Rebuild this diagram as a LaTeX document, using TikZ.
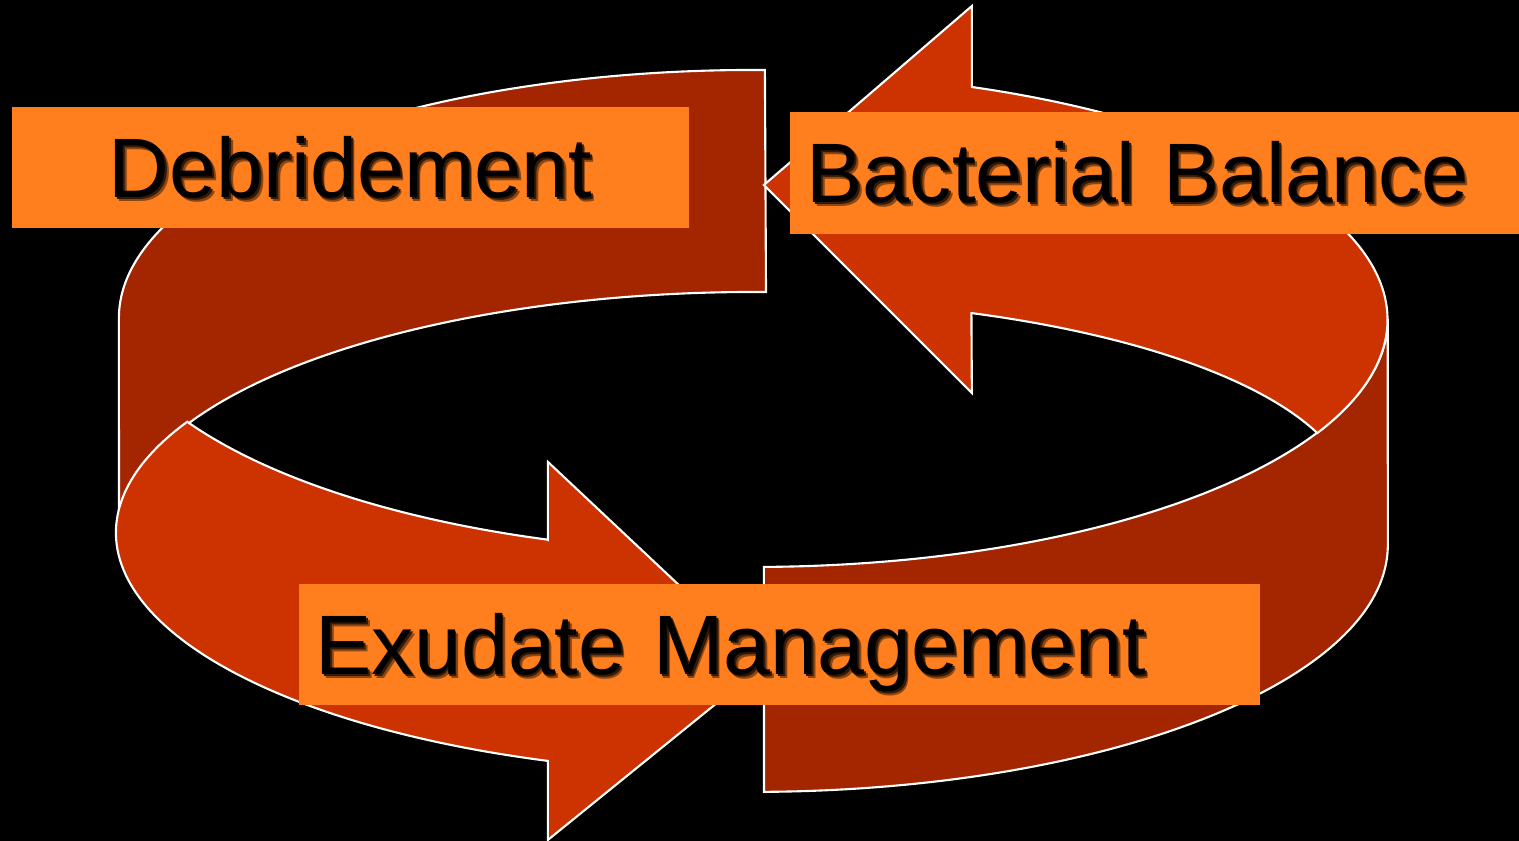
\documentclass[tikz,border=0pt]{standalone}
\usepackage{fontspec}
\setmainfont{Liberation Sans}
\usepackage{tikz}
\definecolor{walldark}{HTML}{A32600}
\definecolor{arrowred}{HTML}{CC3300}
\definecolor{boxorange}{HTML}{FF7F1F}
\colorlet{textshade}{black!45!boxorange}
\colorlet{textshadenear}{black!80!boxorange}
\newcommand{\shadowed}[1]{\makebox[0pt][l]{\kern0.035cm\raisebox{-0.04cm}{\color{textshade}#1}}%
	\makebox[0pt][l]{\kern0.018cm\raisebox{-0.02cm}{\color{textshadenear}#1}}#1}
\tikzset{
	ribbon/.style={draw=white, line width=0.6pt, line join=miter},
	labelbox/.style={fill=boxorange, inner xsep=0.17cm, inner ysep=0pt, minimum height=1.21cm,
		text height=0.6cm, text depth=0pt, font=\fontsize{24}{28}\selectfont}
}

\begin{document}
\begin{tikzpicture}[x=0.01cm, y=-0.01cm]
		\fill[black] (0,0) rectangle (1519,841);
		% back wall on the left
		\draw[ribbon, fill=walldark] (765,70) arc[start angle=-89, end angle=-180, x radius=635, y radius=248]
			-- (119,533) arc[start angle=180, end angle=271, x radius=636, y radius=241] -- cycle;
		% front wall on the right
		\draw[ribbon, fill=walldark] (764,567) arc[start angle=89, end angle=0, x radius=635, y radius=248]
			-- (1388,545) arc[start angle=0, end angle=89, x radius=635, y radius=247] -- cycle;
		% arrow to the right, bottom
		\draw[ribbon, fill=arrowred] (548,540) -- (548,462) -- (764,665) -- (548,840) -- (548,761)
			arc[start angle=108.7, end angle=207.4, x radius=636, y radius=241]
			arc[start angle=150.4, end angle=108.4, x radius=650, y radius=259] -- cycle;
		% arrow to the left, top
		\draw[ribbon, fill=arrowred] (764,185) -- (972,6) -- (972,87)
			arc[start angle=-69.8, end angle=27.2, x radius=635, y radius=248]
			arc[start angle=-19.7, end angle=-68.6, x radius=600, y radius=202] -- (972,393) -- cycle;
		\node[labelbox, text width=6.43cm, align=center] (debr) at (350.5,167.5) {\shadowed{Debridement}};
		\node[labelbox, text width=6.95cm, align=left] (bact) at (1154.5,173) {\shadowed{Bacterial Balance}};
		\node[labelbox, text width=9.27cm, align=left] (exud) at (779.5,644.5) {\shadowed{Exudate Management}};
	\end{tikzpicture}
\end{document}
